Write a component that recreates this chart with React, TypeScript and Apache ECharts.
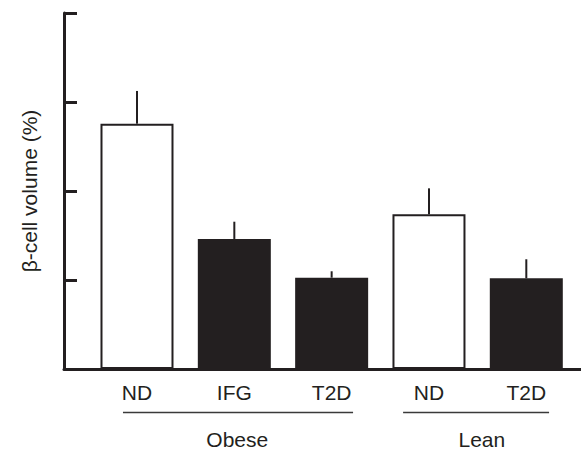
import React, { useEffect, useRef } from "react";
import * as echarts from "echarts";

const categories = ["ND", "IFG", "T2D", "ND", "T2D"];
const barValues = [2.756, 1.461, 1.026, 1.738, 1.019];
const errorTops = [3.124, 1.655, 1.098, 2.03, 1.233];
const barFilled = [false, true, true, false, true];
const groupNames = ["Obese", "Lean"];
const groupStarts = [-0.144, 2.734];
const groupEnds = [2.22, 4.234];
const groupLabelX = [1.03, 3.543];

const INK = "#231f20";
const FONT = "'Liberation Sans', Arial, Helvetica, sans-serif";
const FS = 21;

export default function App() {
  const ref = useRef<HTMLDivElement>(null);
  useEffect(() => {
    if (!ref.current) return;
    const chart = echarts.init(ref.current, null, { renderer: "svg" });
    const barData = barValues.map((v, i) => ({
      value: [i, v],
      itemStyle: barFilled[i]
        ? { color: INK, borderWidth: 0 }
        : { color: "#ffffff", borderColor: INK, borderWidth: 2 },
      label: {
        show: true,
        position: "bottom",
        distance: 13,
        formatter: categories[i],
        color: INK,
        fontSize: FS,
        fontFamily: FONT,
      },
    }));
    const errData = barValues.map((v, i) => [i, v, errorTops[i]]);
    const groupData = groupNames.map((g, i) => [groupStarts[i], groupEnds[i], groupLabelX[i], g]);
    chart.setOption({
      animation: false,
      grid: { left: 64, right: 0, top: 13, bottom: 80 },
      xAxis: {
        type: "value",
        min: -0.75,
        max: 4.562,
        axisLine: { show: true, onZero: false, lineStyle: { color: INK, width: 3 } },
        axisTick: { show: false },
        axisLabel: { show: false },
        splitLine: { show: false },
      },
      yAxis: {
        type: "value",
        min: 0,
        max: 4,
        interval: 1,
        name: "β-cell volume (%)",
        nameLocation: "middle",
        nameGap: 24,
        nameTextStyle: { color: INK, fontSize: FS, fontFamily: FONT },
        axisLine: { show: true, onZero: false, lineStyle: { color: INK, width: 3 } },
        axisTick: { show: true, inside: true, length: 13, lineStyle: { color: INK, width: 3 } },
        axisLabel: { show: false },
        splitLine: { show: false },
      },
      series: [
        {
          type: "custom",
          z: 1,
          clip: false,
          renderItem: (params: any, api: any) => {
            const x = api.value(0);
            const p0 = api.coord([x, api.value(1)]);
            const p1 = api.coord([x, api.value(2)]);
            return {
              type: "line",
              shape: { x1: p0[0], y1: p0[1], x2: p1[0], y2: p1[1] },
              style: { stroke: INK, lineWidth: 2 },
            };
          },
          data: errData,
        },
        {
          type: "bar",
          z: 2,
          barWidth: 73,
          data: barData,
        },
        {
          type: "custom",
          clip: false,
          renderItem: (params: any, api: any) => {
            const a = api.coord([api.value(0), 0]);
            const b = api.coord([api.value(1), 0]);
            const c = api.coord([api.value(2), 0]);
            const name = groupNames[params.dataIndex];
            return {
              type: "group",
              children: [
                {
                  type: "line",
                  shape: { x1: a[0], y1: a[1] + 43.5, x2: b[0], y2: b[1] + 43.5 },
                  style: { stroke: "#3a3a3a", lineWidth: 1.5 },
                },
                {
                  type: "text",
                  style: {
                    text: name,
                    x: c[0],
                    y: c[1] + 70,
                    textAlign: "center",
                    textVerticalAlign: "middle",
                    font: `${FS}px ${FONT}`,
                    fill: INK,
                  },
                },
              ],
            };
          },
          data: groupData,
        },
      ],
    });
    return () => chart.dispose();
  }, []);
  return (
    <div
      ref={ref}
      style={{ position: "fixed", left: 0, top: 0, width: 581, height: 449, background: "#fff" }}
    />
  );
}
